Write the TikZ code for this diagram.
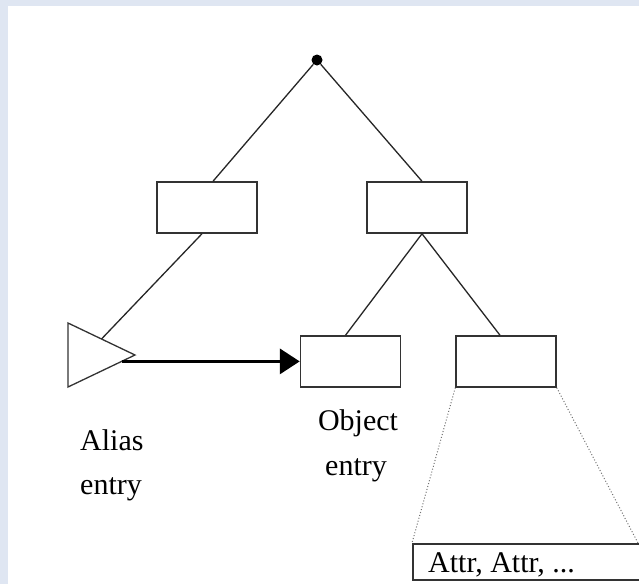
\documentclass[tikz,border=0pt]{standalone}
\usepackage{fontspec}
\setmainfont{Liberation Serif}
\usetikzlibrary{arrows.meta,calc}
\definecolor{pagebg}{HTML}{DFE6F2}
\definecolor{edge}{HTML}{333333}
\tikzset{
  box/.style={draw=edge, line width=1.5pt, minimum width=100pt, minimum height=51pt, inner sep=0pt},
  branch/.style={draw=black!85, line width=1.3pt},
  zoomline/.style={draw=black!55, line width=1pt, dotted},
  label/.style={font=\fontsize{30}{45}\selectfont, inner sep=0pt},
  link/.style={line width=3.6pt, -{Triangle[length=20pt,width=25pt]}}
}
\begin{document}
\begin{tikzpicture}[x=1pt, y=-1pt]
  \useasboundingbox (0,0) rectangle (639,584);
  \clip (0,0) rectangle (639,584);
  \fill[pagebg] (0,0) rectangle (639,584);
  \fill[white] (8,6) rectangle (639,584);

  % tree nodes
  \node[circle, fill=black, inner sep=0pt, minimum size=11pt] (root) at (317,60) {};
  \node[box] (lbox) at (207,207.5) {};
  \node[box] (rbox) at (417,207.5) {};
  \node[box] (obj) at (350.5,361.5) {};
  \node[box] (attrsrc) at (506,361.5) {};

  % alias triangle
  \coordinate (tA) at (68,323);
  \coordinate (tB) at (68,387);
  \coordinate (tC) at (135,355);
  \draw[draw=edge, line width=1.3pt, fill=white] (tA) -- (tC) -- (tB) -- cycle;
  \coordinate (tin) at ($(tA)!0.5!(tC)$);
  \coordinate (tout) at ($(tB)!0.8!(tC)$);

  % branches
  \draw[branch] (root) -- ([xshift=6pt]lbox.north);
  \draw[branch] (root) -- ([xshift=5pt]rbox.north);
  \draw[branch] ([xshift=-5pt]lbox.south) -- (tin);
  \draw[branch] ([xshift=5pt]rbox.south) -- ([xshift=-5pt]obj.north);
  \draw[branch] ([xshift=5pt]rbox.south) -- ([xshift=-6pt]attrsrc.north);

  % alias reference
  \draw[link] (tout) -- (tout -| obj.west);

  % attribute list
  \node[box, anchor=north west, minimum width=260pt, minimum height=36pt] (attr) at (412,543) {};
  \coordinate (attrcorner) at (638,543);
  \draw[zoomline] (attrsrc.south west) -- (attr.north west);
  \draw[zoomline] (attrsrc.south east) -- (attrcorner);
  \node[label, anchor=base west] (attrtext) at (428,572) {Attr, Attr, ...};

  % labels
  \node[label, anchor=base west] (alias1) at (80,450) {Alias};
  \node[label, anchor=base west] (alias2) at (80,494) {entry};
  \node[label, anchor=base] (obj1) at (358,430) {Object};
  \node[label, anchor=base] (obj2) at (356,475) {entry};
\end{tikzpicture}
\end{document}
